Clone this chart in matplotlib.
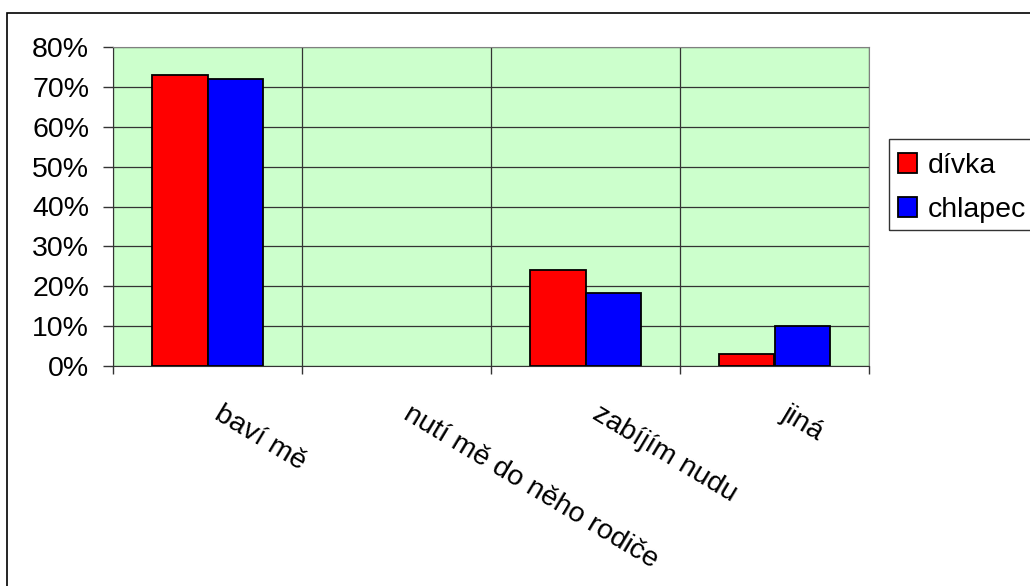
import numpy as np
import matplotlib.pyplot as plt
from matplotlib.patches import Rectangle
from matplotlib.ticker import FuncFormatter, MultipleLocator

plt.rcParams['font.family'] = ['Liberation Sans', 'DejaVu Sans']

# data: share of answers by gender
categories = ["baví mě", "nutí mě do něho rodiče", "zabíjím nudu", "jiná"]
divka = [73, 0, 24, 3]
chlapec = [72, 0, 18.3, 10]
series_names = ["dívka", "chlapec"]

W, H = 1030, 586
FS = 20.5
fig = plt.figure(figsize=(W / 100, H / 100), dpi=100)
ax = fig.add_axes([113 / W, 1 - 366 / H, (869 - 113) / W, (366 - 47) / H])
ax.set_facecolor("#CCFFCC")

x = np.arange(len(categories))
bw = 0.296
b1 = ax.bar(x - bw / 2, divka, bw, color="#FF0000", edgecolor="black", linewidth=1.3,
            label=series_names[0], zorder=3)
b2 = ax.bar(x + bw / 2, chlapec, bw, color="#0000FF", edgecolor="black", linewidth=1.3,
            label=series_names[1], zorder=3)
# zero-height bars are not drawn at all
for r in list(b1) + list(b2):
    if r.get_height() == 0:
        r.set_visible(False)

ax.set_xlim(-0.5, len(categories) - 0.5)
ax.set_ylim(0, 80)
ax.yaxis.set_major_locator(MultipleLocator(10))
ax.yaxis.set_major_formatter(FuncFormatter(lambda v, p: f"{v:.0f}%"))
ax.tick_params(axis="y", labelsize=FS, length=7.2, width=1, color="#333333", pad=10)

# category boundaries carry the x ticks and vertical gridlines
ax.set_xticks(np.arange(len(categories) + 1) - 0.5)
ax.set_xticklabels([])
ax.tick_params(axis="x", length=6, width=1, color="#333333")
ax.grid(True, color="#333333", linewidth=0.9, zorder=0)
ax.set_axisbelow(True)

for s in ["top", "right"]:
    ax.spines[s].set_color("#808080")
for s in ["left", "bottom"]:
    ax.spines[s].set_color("#333333")

for i, name in enumerate(categories):
    ax.annotate(name, xy=(i, 0), xycoords="data", xytext=(11.5, -25),
                textcoords="offset points", rotation=-31, rotation_mode="anchor",
                ha="left", va="top", fontsize=FS)

leg = ax.legend(loc="upper left", bbox_to_anchor=(898 / W, 1 - 153 / H),
                bbox_transform=fig.transFigure, fontsize=FS, frameon=False,
                handlelength=0.68, handleheight=0.68, handletextpad=0.38,
                borderpad=0, labelspacing=0.63, borderaxespad=0)
for h in leg.legend_handles:
    h.set_linewidth(1.3)

# legend box runs off the right edge
fig.patches.append(Rectangle((889 / W, 1 - 230 / H), 0.3, 91 / H, fill=False,
                             edgecolor="#333333", linewidth=1.0,
                             transform=fig.transFigure))

# outer chart border
fig.patches.append(Rectangle((7 / W, -0.1), 1.2, 1 - 13 / H + 0.1, fill=False,
                             edgecolor="black", linewidth=1.2,
                             transform=fig.transFigure))

fig.savefig("out.png", dpi=100)
